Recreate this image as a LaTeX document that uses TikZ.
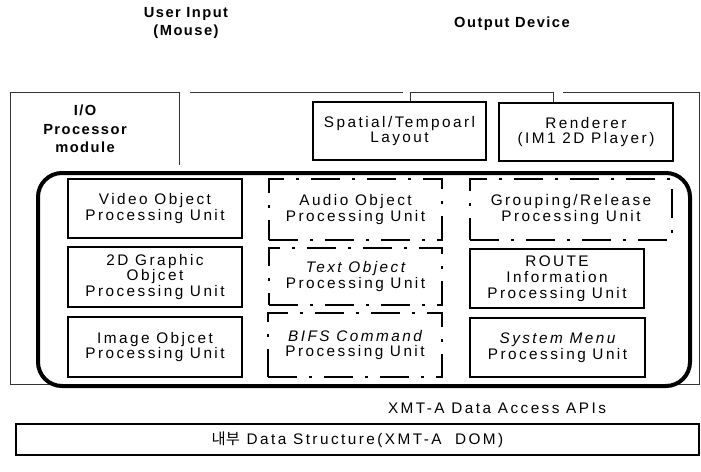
\documentclass[tikz,border=0pt]{standalone}
\usepackage{fontspec}
\setmainfont{Liberation Sans}
\newfontfamily\lab{Liberation Sans}[LetterSpace=16]
\newfontfamily\labb{Liberation Sans}[LetterSpace=10]
\newfontfamily\kr{Noto Sans CJK KR}
\begin{document}
\begin{tikzpicture}[x=0.75pt,y=-0.75pt,
  sz/.style 2 args={minimum width=#1*0.75pt,minimum height=#2*0.75pt},
  txt/.style={font=\lab\fontsize{11.5}{11.8}\selectfont,align=center},
  unit/.style={txt,draw,line width=1.1pt,inner sep=0pt},
  dashunit/.style={txt,draw,line width=2.2pt,inner sep=0pt,
    dash pattern=on 22pt off 9pt on 2pt off 9pt},
  frame/.style={draw=black!80,line width=0.7pt},
  head/.style={font=\labb\bfseries\fontsize{11}{13}\selectfont,align=center}]
\useasboundingbox (0,0) rectangle (701,472);

% headings above the processor frame
\node (uin) [head] at (186,23) {User Input\\(Mouse)};
\node (odev) [head] at (512,24) {Output Device};

% processor frame, open where the inputs and outputs pass
\coordinate (fa) at (179,92);
\coordinate (fb) at (190,92);
\coordinate (fc) at (410,92);
\coordinate (fd) at (553,92);
\coordinate (fe) at (563,92);
\draw[frame] (fa) -- (10,92) -- (10,384) -- (699,384) -- (699,92) -- (fe);
\draw[frame] (fb) -- (403,92);
\draw[frame] (fc) -- (fd);
\draw[frame] (fa) -- (179,165);

\node (io) [head,font=\labb\bfseries\fontsize{11}{14}\selectfont] at (85,129) {I/O\\Processor\\module};

% output stage
\node (layout) [unit,sz={173}{58}] at (399.5,131) {Spatial/Tempoarl\\Layout};
\node (render) [unit,sz={174}{58}] at (586,132) {Renderer\\(IM1 2D Player)};
\draw[frame] (fc) -- (fc |- layout.north);
\draw[frame] (fd) -- (fd |- render.north);

% processing core
\node (core) [draw,line width=3pt,rounded corners=18pt,sz={652}{213}] at (364,279.5) {};

\node (video) [unit,sz={174}{59}] at (155,208.5) {Video Object\\Processing Unit};
\node (graph) [unit,sz={174}{60}] at (155,277) {2D Graphic\\Objcet\\Processing Unit};
\node (image) [unit,sz={174}{60}] at (155,347) {Image Objcet\\Processing Unit};

\node (audio) [dashunit,sz={173}{61}] at (355.5,209.5) {Audio Object\\Processing Unit};
\node (text) [dashunit,sz={173}{57}] at (355.5,276.5) {\itshape Text Object\\Processing Unit};
\node (bifs) [dashunit,sz={174}{64}] at (355,345) {\itshape BIFS Command\\Processing Unit};

\node (group) [dashunit,sz={202}{61}] at (571,209.5) {Grouping/Release\\Processing Unit};
\node (route) [unit,sz={174}{59}] at (557,278.5) {ROUTE\\Information\\Processing Unit};
\node (menu) [unit,sz={175}{59}] at (557.5,347.5) {\itshape System Menu\\Processing Unit};

% data access layer
\node (api) [txt] at (497,408) {XMT-A Data Access APIs};
\node (dom) [txt,draw,line width=0.9pt,sz={683}{31}] at (357.5,439.5)
  {{\kr 내부} Data Structure(XMT-A\ \ DOM)};
\end{tikzpicture}
\end{document}
